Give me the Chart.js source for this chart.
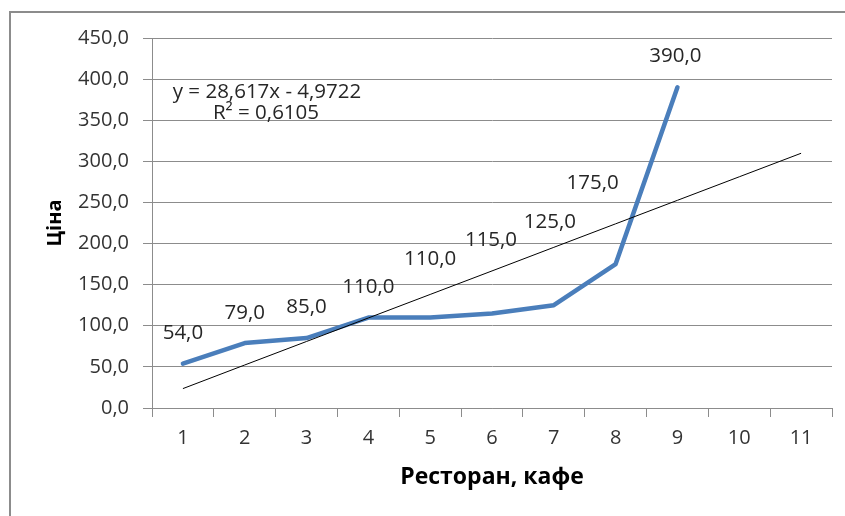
<!DOCTYPE html>
<html>
<head>
<meta charset="utf-8">
<style>
  html, body { margin: 0; padding: 0; background: #fff; }
  #chart { display: block; }
</style>
<script src="https://cdn.jsdelivr.net/npm/chart.js@4/dist/chart.umd.min.js"></script>
</head>
<body>
<canvas id="chart" width="845" height="516"></canvas>
<script>
  const categories = ['1', '2', '3', '4', '5', '6', '7', '8', '9', '10', '11'];
  const priceValues = [54, 79, 85, 110, 110, 115, 125, 175, 390];
  const trendValues = [23.6, 52.3, 80.9, 109.5, 138.1, 166.7, 195.4, 224.0, 252.6, 281.2, 309.8];
  const trendEquation = 'y = 28,617x - 4,9722';
  const trendR2 = 'R² = 0,6105';
  const yTickMin = 0;
  const yTickMax = 450;
  const yTickStep = 50;

  // label offsets relative to each point (Excel labels were moved by hand)
  const labelShift = [[0, -30], [0, -30], [0, -31], [0, -30], [0, -58], [-1, -73], [-4, -83], [-23, -81], [-2, -31]];

  const FONT = '"Open Sans", "Noto Sans", sans-serif';

  function formatComma(value) {
    return Number(value).toFixed(1).replace('.', ',');
  }

  const framePlugin = {
    id: 'frame',
    beforeDraw(chart) {
      const ctx = chart.ctx;
      ctx.save();
      ctx.fillStyle = '#fff';
      ctx.fillRect(0, 0, chart.width, chart.height);
      ctx.strokeStyle = '#8c8c8c';
      ctx.lineWidth = 2;
      ctx.beginPath();
      ctx.moveTo(10, chart.height);
      ctx.lineTo(10, 12);
      ctx.lineTo(chart.width, 12);
      ctx.stroke();
      ctx.restore();
    },
  };

  const labelPlugin = {
    id: 'pointLabels',
    afterDatasetsDraw(chart) {
      const ctx = chart.ctx;
      const meta = chart.getDatasetMeta(1);
      ctx.save();
      ctx.font = '20.5px ' + FONT;
      ctx.fillStyle = '#262626';
      ctx.textAlign = 'center';
      ctx.textBaseline = 'middle';
      meta.data.forEach((el, i) => {
        const shift = labelShift[i] || [0, -30];
        ctx.fillText(formatComma(priceValues[i]), el.x + shift[0], el.y + shift[1]);
      });
      ctx.fillText(trendEquation, 267, 92);
      ctx.fillText(trendR2, 266, 113);
      ctx.restore();
    },
  };

  new Chart(document.getElementById('chart'), {
    type: 'line',
    data: {
      labels: categories,
      datasets: [
        {
          label: 'Лінійна (Ціна)',
          data: trendValues,
          borderColor: '#000',
          borderWidth: 1,
          pointRadius: 0,
          tension: 0,
          order: 0,
        },
        {
          label: 'Ціна',
          data: priceValues,
          borderColor: '#4a7ebb',
          borderWidth: 4.5,
          pointRadius: 0,
          tension: 0,
          borderCapStyle: 'round',
          borderJoinStyle: 'round',
          order: 1,
        },
      ],
    },
    options: {
      responsive: false,
      animation: false,
      devicePixelRatio: 1,
      layout: { padding: { left: 0, right: 13, top: 38, bottom: 0 } },
      plugins: {
        legend: { display: false },
        tooltip: { enabled: false },
      },
      scales: {
        x: {
          offset: true,
          grid: {
            offset: true,
            drawOnChartArea: false,
            drawTicks: true,
            tickLength: 9,
            color: '#8c8c8c',
          },
          border: { color: '#8c8c8c' },
          ticks: {
            color: '#333',
            font: { family: FONT, size: 20 },
            padding: 9,
            maxRotation: 0,
          },
          title: {
            display: true,
            text: 'Ресторан, кафе',
            color: '#000',
            font: { family: FONT, size: 23, weight: 'bold' },
            padding: { top: 0, bottom: 25 },
          },
          afterFit(scale) { scale.height = 108; },
        },
        y: {
          min: yTickMin,
          max: yTickMax,
          ticks: {
            stepSize: yTickStep,
            color: '#333',
            font: { family: FONT, size: 20 },
            padding: 14,
            callback: (value) => formatComma(value),
          },
          grid: {
            color: '#8c8c8c',
            drawTicks: true,
            tickLength: 9,
          },
          border: { color: '#8c8c8c' },
          title: {
            display: true,
            text: 'Ціна',
            color: '#000',
            font: { family: FONT, size: 20, weight: 'bold' },
            padding: { top: 43, bottom: 0 },
          },
          afterFit(scale) { scale.width = 152; },
        },
      },
    },
    plugins: [framePlugin, labelPlugin],
  });
</script>
</body>
</html>
